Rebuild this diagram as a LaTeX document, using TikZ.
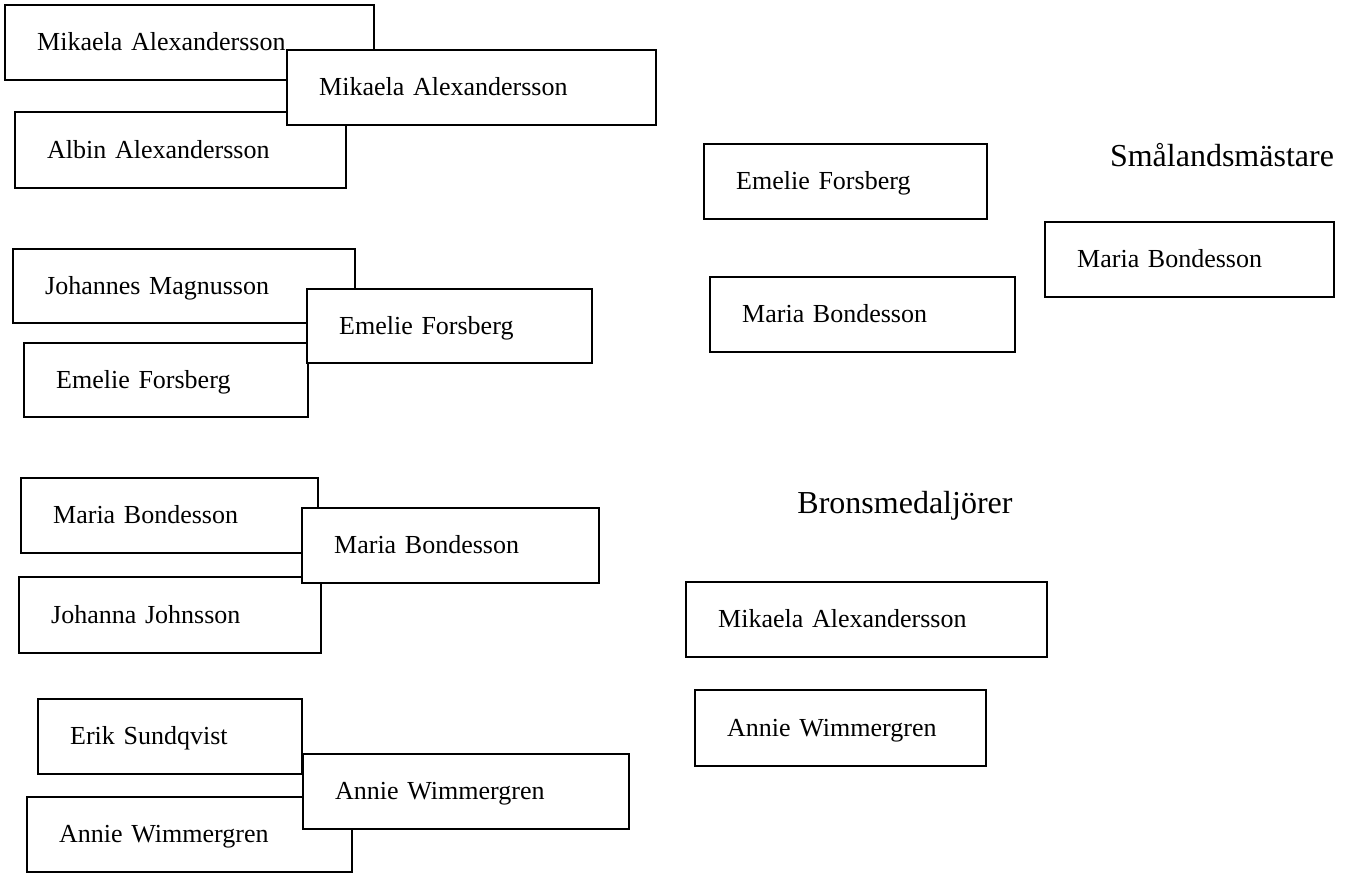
\documentclass[tikz,border=0pt]{standalone}
\usepackage{fontspec}
\setmainfont{Liberation Serif}
\begin{document}
\begin{tikzpicture}[x=1pt,y=-1pt,
  namebox/.style 2 args={draw, fill=white, line width=2.4pt, anchor=north west,
    minimum width=#1, minimum height=#2, inner xsep=32pt, inner ysep=0pt,
    text height=16pt, text depth=0pt, align=left,
    font=\fontsize{26}{30}\selectfont},
  title/.style={inner sep=0pt, font=\fontsize{32}{36}\selectfont}]
\useasboundingbox (0,0) rectangle (1347,873);
% group A
\node[namebox={369pt}{75pt}, text width=305pt] (a1) at (4,4) {Mikaela Alexandersson};
\node[namebox={331pt}{76pt}, text width=267pt] (a3) at (14,111) {Albin Alexandersson};
\node[namebox={369pt}{75pt}, text width=305pt] (a2) at (286,49) {Mikaela Alexandersson};
% group B
\node[namebox={342pt}{74pt}, text width=278pt] (b1) at (12,248) {Johannes Magnusson};
\node[namebox={284pt}{74pt}, text width=220pt] (b3) at (23,342) {Emelie Forsberg};
\node[namebox={285pt}{74pt}, text width=221pt] (b2) at (306,288) {Emelie Forsberg};
% group C
\node[namebox={297pt}{75pt}, text width=233pt] (c1) at (20,477) {Maria Bondesson};
\node[namebox={302pt}{76pt}, text width=238pt] (c3) at (18,576) {Johanna Johnsson};
\node[namebox={297pt}{75pt}, text width=233pt] (c2) at (301,507) {Maria Bondesson};
% group D
\node[namebox={264pt}{75pt}, text width=200pt] (d1) at (37,698) {Erik Sundqvist};
\node[namebox={325pt}{75pt}, text width=261pt] (d3) at (26,796) {Annie Wimmergren};
\node[namebox={326pt}{75pt}, text width=262pt] (d2) at (302,753) {Annie Wimmergren};
% right side
\node[namebox={283pt}{75pt}, text width=219pt] (e1) at (703,143) {Emelie Forsberg};
\node[namebox={305pt}{75pt}, text width=241pt] (e2) at (709,276) {Maria Bondesson};
\node[title] (t1) at (1222,155) {Smålandsmästare};
\node[namebox={289pt}{75pt}, text width=225pt] (e3) at (1044,221) {Maria Bondesson};
\node[title] (t2) at (905,506) {Bronsmedaljörer};
\node[namebox={361pt}{75pt}, text width=297pt] (f1) at (685,581) {Mikaela Alexandersson};
\node[namebox={291pt}{76pt}, text width=227pt] (f2) at (694,689) {Annie Wimmergren};
\end{tikzpicture}
\end{document}
